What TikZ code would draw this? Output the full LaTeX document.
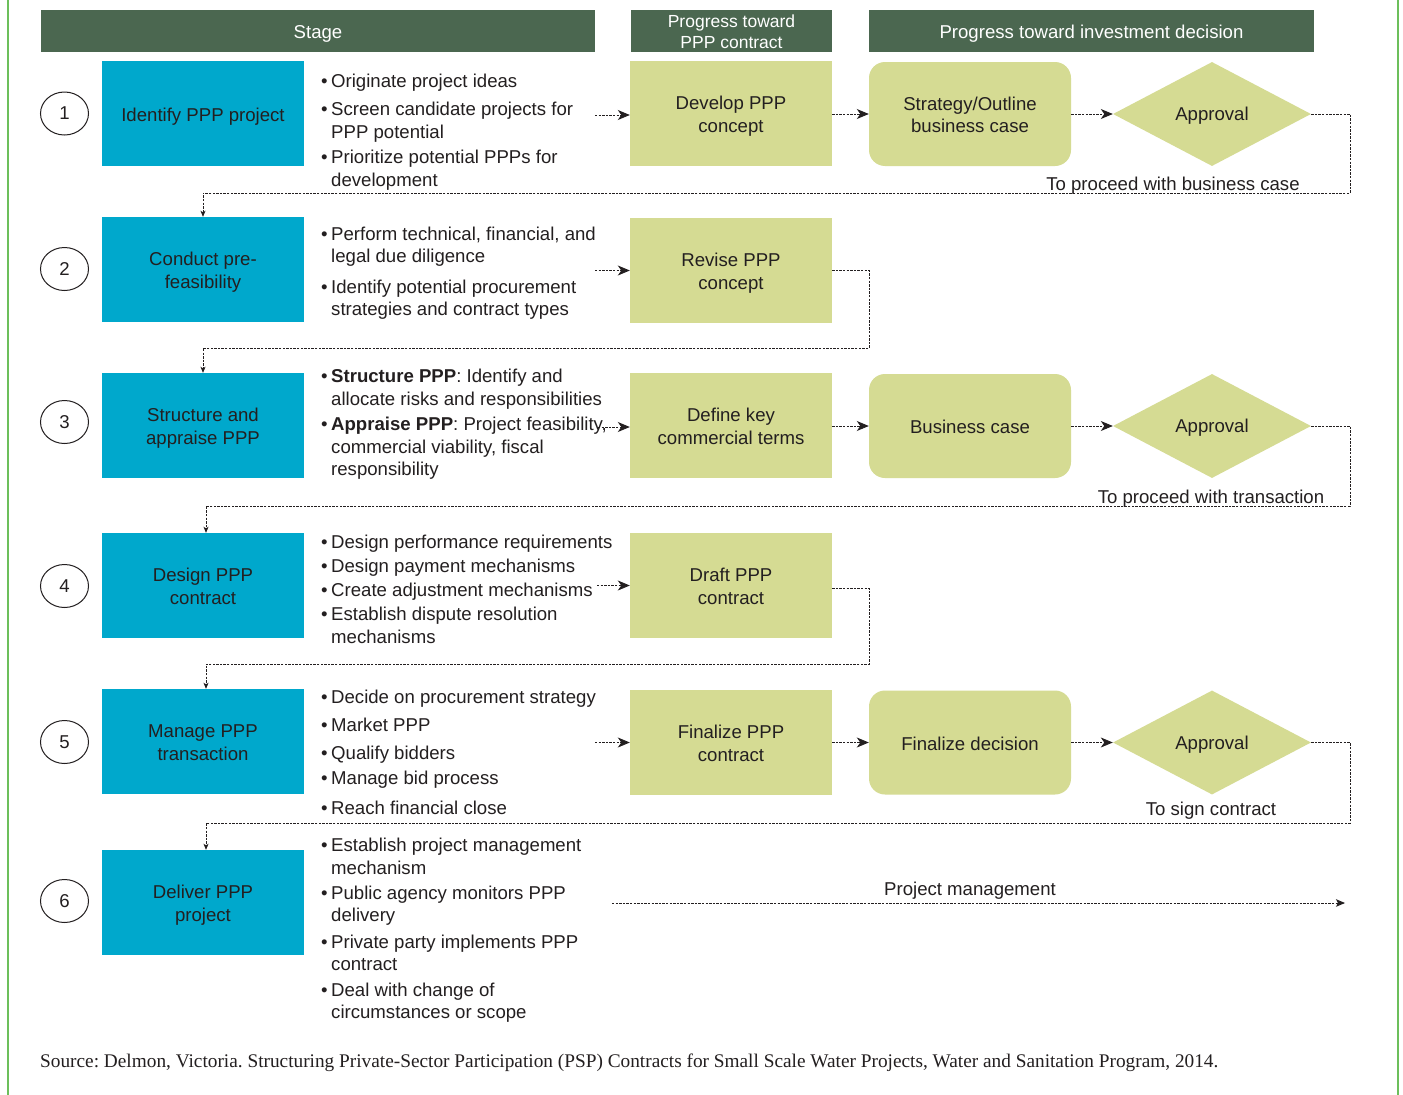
\documentclass[tikz,border=0pt]{standalone}
\usepackage{fontspec}
\setmainfont{Liberation Sans}
\newfontfamily\srcfont{Liberation Serif}
\usetikzlibrary{shapes.geometric,arrows.meta}
\definecolor{hdr}{HTML}{4B6750}
\definecolor{stageblue}{HTML}{00A8CC}
\definecolor{pale}{HTML}{D5DB93}
\definecolor{txt}{HTML}{231F20}
\definecolor{framegreen}{HTML}{6CBF5B}
\newcommand{\bul}{\llap{\textbullet\hspace{3.5pt}}}
\newcommand{\dn}[1]{\raisebox{-3pt}[\height][\depth]{\begin{tabular}{@{}c@{}}#1\end{tabular}}}
\begin{document}
\begin{tikzpicture}[x=1pt,y=-1pt,
  font=\fontsize{18.6}{22.5}\selectfont,
  hdrbox/.style={fill=hdr, inner sep=0pt, minimum height=42pt},
  hdrtext/.style={text=white, inner sep=0pt, align=center},
  stagebox/.style={fill=stageblue, text=txt, inner sep=0pt, align=center, minimum width=202pt, minimum height=105pt},
  palebox/.style={fill=pale, text=txt, inner sep=0pt, align=center, minimum width=202pt, minimum height=105pt},
  roundbox/.style={fill=pale, text=txt, inner sep=0pt, align=center, minimum width=202pt, minimum height=104pt, rounded corners=16pt},
  approval/.style={diamond, fill=pale, text=txt, inner sep=0pt, aspect=1.9, text depth=0pt, minimum width=198pt, minimum height=104pt},
  numcirc/.style={ellipse, draw=txt, line width=1pt, text=txt, inner sep=0pt, minimum width=48pt, minimum height=43pt},
  bline/.style={anchor=mid west, yshift=-5pt, inner sep=0pt, text=txt},
  lbl/.style={inner sep=0pt, yshift=-3pt, text=txt},
  conn/.style={draw=txt, line width=0.9pt, dash pattern=on 2.4pt off 1.2pt},
  harrow/.style={conn, -{Stealth[length=12pt, width=10pt, inset=3.5pt]}},
  varrow/.style={conn, -{Stealth[length=6pt, width=5pt, inset=1.5pt]}},
  parrow/.style={conn, -{Stealth[length=9pt, width=7.5pt, inset=2pt]}}
]
\useasboundingbox (0,0) rectangle (1403,1095);
\fill[white] (0,0) rectangle (1403,1095);
% frame lines
\draw[framegreen, line width=1.3pt] (8,0) -- (8,1095);
\draw[framegreen, line width=1.3pt] (1398,0) -- (1398,1095);

% headers
\node[hdrbox, minimum width=554pt] (h1) at (318,31) {};
\node[hdrtext] (h1t) at (318,33.5) {Stage};
\node[hdrbox, minimum width=201pt] (h2) at (731.5,31) {};
\node[hdrtext, font=\fontsize{17.5}{21.5}\selectfont] (h2t) at (731.5,31.5) {Progress toward\\PPP contract};
\node[hdrbox, minimum width=445pt] (h3) at (1091.5,31) {};
\node[hdrtext] (h3t) at (1091.5,33.5) {Progress toward investment decision};

% number circles
\node[numcirc] (n1) at (64.5,113.5) {1};
\node[numcirc] (n2) at (64.5,269) {2};
\node[numcirc] (n3) at (64.5,422) {3};
\node[numcirc] (n4) at (64.5,586) {4};
\node[numcirc] (n5) at (64.5,742) {5};
\node[numcirc] (n6) at (64.5,901) {6};

% stage boxes
\node[stagebox] (b1) at (203,113.5) {\dn{Identify PPP project}};
\node[stagebox] (b2) at (203,269.5) {\dn{Conduct pre-\\feasibility}};
\node[stagebox] (b3) at (203,425.5) {\dn{Structure and\\appraise PPP}};
\node[stagebox] (b4) at (203,585.5) {\dn{Design PPP\\contract}};
\node[stagebox] (b5) at (203,741.5) {\dn{Manage PPP\\transaction}};
\node[stagebox] (b6) at (203,902.5) {\dn{Deliver PPP\\project}};

% contract progress boxes
\node[palebox] (c1) at (731,113.5) {\dn{Develop PPP\\concept}};
\node[palebox] (c2) at (731,270.5) {\dn{Revise PPP\\concept}};
\node[palebox] (c3) at (731,425.5) {\dn{Define key\\commercial terms}};
\node[palebox] (c4) at (731,585.5) {\dn{Draft PPP\\contract}};
\node[palebox] (c5) at (731,742.5) {\dn{Finalize PPP\\contract}};

% investment decision boxes
\node[roundbox] (d1) at (970,114) {\dn{Strategy/Outline\\business case}};
\node[roundbox] (d3) at (970,426) {\dn{Business case}};
\node[roundbox] (d5) at (970,742.5) {\dn{Finalize decision}};

\node[approval] (a1) at (1212,114) {Approval};
\node[approval] (a3) at (1212,426) {Approval};
\node[approval] (a5) at (1212,742.5) {Approval};

% bullet texts
\foreach \y/\t [count=\i] in {80/{\bul Originate project ideas},
  108/{\bul Screen candidate projects for}, 131/{PPP potential},
  156/{\bul Prioritize potential PPPs for}, 179/{development}}
  \node[bline] (ta\i) at (331,\y) {\t};
\foreach \y/\t [count=\i] in {233/{\bul Perform technical, financial, and}, 255/{legal due diligence},
  286/{\bul Identify potential procurement}, 308/{strategies and contract types}}
  \node[bline] (tb\i) at (331,\y) {\t};
\foreach \y/\t [count=\i] in {375/{\bul\textbf{Structure PPP}: Identify and}, 398/{allocate risks and responsibilities},
  423/{\bul\textbf{Appraise PPP}: Project feasibility,}, 446/{commercial viability, fiscal}, 468/{responsibility}}
  \node[bline] (tc\i) at (331,\y) {\t};
\foreach \y/\t [count=\i] in {541/{\bul Design performance requirements}, 565/{\bul Design payment mechanisms},
  589/{\bul Create adjustment mechanisms}, 613/{\bul Establish dispute resolution}, 636/{mechanisms}}
  \node[bline] (td\i) at (331,\y) {\t};
\foreach \y/\t [count=\i] in {696/{\bul Decide on procurement strategy}, 724/{\bul Market PPP},
  752/{\bul Qualify bidders}, 777/{\bul Manage bid process}, 807/{\bul Reach financial close}}
  \node[bline] (te\i) at (331,\y) {\t};
\foreach \y/\t [count=\i] in {844/{\bul Establish project management}, 867/{mechanism},
  892/{\bul Public agency monitors PPP}, 914/{delivery},
  941/{\bul Private party implements PPP}, 963/{contract},
  989/{\bul Deal with change of}, 1011/{circumstances or scope}}
  \node[bline] (tf\i) at (331,\y) {\t};

% connector start points
\coordinate (s1) at (595,115);
\coordinate (s2) at (595,270.5);
\coordinate (s3) at (598,427);
\coordinate (s4) at (597,585.5);
\coordinate (s5) at (595,742.5);
\coordinate (p0) at (612,903);
\coordinate (p1) at (1345,903);

% row 1
\draw[harrow] (s1) -- (s1 -| c1.west);
\draw[harrow] (c1.east |- d1) -- (d1.west);
\draw[harrow] (d1.east) -- (a1.west);
\draw[varrow] (a1.east) -- (1350,114) -- (1350,193) -| (b2.north);
\node[lbl] (l1) at (1173,183) {To proceed with business case};
% row 2
\draw[harrow] (s2) -- (s2 -| c2.west);
\draw[varrow] (c2.east) -- (869,270.5) -- (869,348) -| (b3.north);
% row 3
\draw[harrow] (s3) -- (s3 -| c3.west);
\draw[harrow] (c3.east |- d3) -- (d3.west);
\draw[harrow] (d3.east) -- (a3.west);
\draw[varrow] (a3.east) -- (1350,426) -- (1350,506) -| ([xshift=3pt]b4.north);
\node[lbl] (l3) at (1211,496) {To proceed with transaction};
% row 4
\draw[harrow] (s4) -- (s4 -| c4.west);
\draw[varrow] (c4.east |- 0,588) -- (869,588) -- (869,664) -| ([xshift=3pt]b5.north);
% row 5
\draw[harrow] (s5) -- (s5 -| c5.west);
\draw[harrow] (c5.east) -- (d5.west);
\draw[harrow] (d5.east) -- (a5.west);
\draw[varrow] (a5.east) -- (1350,742.5) -- (1350,823) -| ([xshift=3pt]b6.north);
\node[lbl] (l5) at (1211,808) {To sign contract};
% row 6
\draw[parrow] (p0) -- (p1);
\node[lbl] (l6) at (970,888) {Project management};

% source
\node[anchor=mid west, inner sep=0pt, text=txt, font=\srcfont\fontsize{19.3}{22}\selectfont] (src) at (40,1065)
  {\frenchspacing Source: Delmon, Victoria. Structuring Private-Sector Participation (PSP) Contracts for Small Scale Water Projects, Water and Sanitation Program, 2014.};
\end{tikzpicture}
\end{document}
